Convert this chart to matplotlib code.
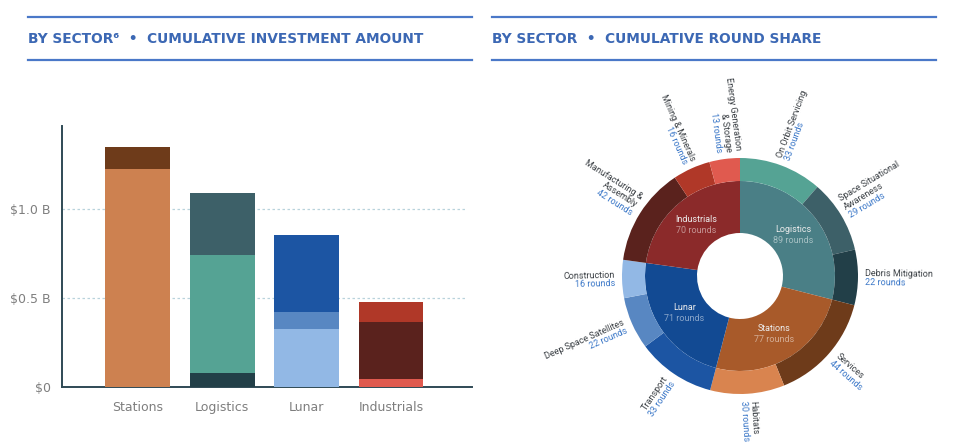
import numpy as np
import matplotlib
matplotlib.use("Agg")
from matplotlib import pyplot as plt
from matplotlib.patches import Wedge
from matplotlib.lines import Line2D

# ---- bar chart data (billions USD) ----
sectors = ["Stations", "Logistics", "Lunar", "Industrials"]
# stacked segments bottom -> top
stations_parts = [1.22, 0.126]
logistics_parts = [0.079, 0.659, 0.350]
lunar_parts = [0.323, 0.099, 0.432]
industrials_parts = [0.043, 0.321, 0.113]
stations_colors = ["#CD8150", "#6E3B1A"]
logistics_colors = ["#223F48", "#55A394", "#3D6068"]
lunar_colors = ["#92B8E5", "#5887C2", "#1C55A3"]
industrials_colors = ["#E05A4F", "#5A221D", "#B03828"]
y_ticks = [0, 0.5, 1.0]
y_tick_labels = ["$0", "$0.5 B", "$1.0 B"]

# ---- sunburst data (rounds) ----
inner_names = ["Logistics", "Stations", "Lunar", "Industrials"]
inner_rounds = [89, 77, 71, 70]
inner_colors = ["#4A7F86", "#A85A2A", "#124A93", "#8B2A2A"]
outer_names = [
    ["On Orbit Servicing", "Space Situational\nAwareness", "Debris Mitigation"],
    ["Services", "Habitats"],
    ["Transport", "Deep Space Satellites", "Construction"],
    ["Manufacturing &\nAssembly", "Mining & Minerals", "Energy Generation\n& Storage"],
]
outer_rounds = [[33, 29, 22], [44, 30], [33, 22, 16], [42, 16, 13]]
outer_colors = [
    ["#55A394", "#3D6068", "#223F48"],
    ["#6E3B1A", "#D9844F"],
    ["#1C55A3", "#5887C2", "#92B8E5"],
    ["#5A221D", "#B03828", "#E05A4F"],
]

W, H = 960, 447
fig = plt.figure(figsize=(W / 100, H / 100), dpi=100)
fig.patch.set_facecolor("white")

title_color = "#3C68B4"
rule_color = "#4A78C8"


def header(x0, x1, text):
    for yp in (17, 60):
        fig.add_artist(Line2D([x0 / W, x1 / W], [1 - yp / H, 1 - yp / H],
                              color=rule_color, lw=1.6, transform=fig.transFigure))
    fig.text(x0 / W, 1 - 39 / H, text, color=title_color, fontsize=9.9,
             fontweight="bold", family="DejaVu Sans", va="center", ha="left")


header(28, 472, "BY SECTOR\u2076  \u2022  CUMULATIVE INVESTMENT AMOUNT")
header(492, 936, "BY SECTOR  \u2022  CUMULATIVE ROUND SHARE")

# ---- stacked bars ----
ax = fig.add_axes([62 / W, 1 - 387 / H, 410 / W, 261 / H])
all_parts = [stations_parts, logistics_parts, lunar_parts, industrials_parts]
all_colors = [stations_colors, logistics_colors, lunar_colors, industrials_colors]
x = np.arange(len(sectors))
for i, (parts, cols) in enumerate(zip(all_parts, all_colors)):
    bottom = 0
    for v, c in zip(parts, cols):
        ax.bar(x[i], v, bottom=bottom, width=0.77, color=c, zorder=3)
        bottom += v

ax.set_xlim(-0.9, 3.96)
ax.set_ylim(0, 1.464)
for yv in y_ticks[1:]:
    ax.plot([-0.9, 3.9], [yv, yv], color="#B9D3DC", lw=0.9, ls=(0, (2, 2)), zorder=1)
ax.set_yticks(y_ticks)
ax.set_yticklabels(y_tick_labels)
ax.set_xticks(x)
ax.set_xticklabels(sectors)
ax.tick_params(axis="both", length=0, colors="#7E7E7E", labelsize=9)
ax.tick_params(axis="y", pad=8)
ax.tick_params(axis="x", pad=10)
for s in ("top", "right"):
    ax.spines[s].set_visible(False)
for s in ("left", "bottom"):
    ax.spines[s].set_color("#2F4A55")
    ax.spines[s].set_linewidth(1.4)

# ---- sunburst ----
cx, cy, size = 740, 276, 400
ax2 = fig.add_axes([(cx - size / 2) / W, (H - cy - size / 2) / H, size / W, size / H])
ax2.set_xlim(-2, 2)
ax2.set_ylim(-2, 2)
ax2.set_aspect("equal")
ax2.axis("off")

r_hole, r_mid, r_out = 0.43, 0.95, 1.18
total = sum(inner_rounds)
start = 90.0
for k in range(len(inner_names)):
    span = 360.0 * inner_rounds[k] / total
    end = start - span
    ax2.add_patch(Wedge((0, 0), r_mid, end, start, width=r_mid - r_hole,
                        facecolor=inner_colors[k], edgecolor="none"))
    mid = np.deg2rad((start + end) / 2)
    rl = 0.67
    tx, ty = rl * np.cos(mid), rl * np.sin(mid)
    ax2.text(tx, ty + 0.01, inner_names[k], color="#EDEDED", fontsize=6.5,
             ha="center", va="bottom", family="Roboto")
    ax2.text(tx, ty - 0.01, f"{inner_rounds[k]} rounds", color="#FFFFFF", alpha=0.5,
             fontsize=6.5, ha="center", va="top", family="Roboto")

    sub_total = sum(outer_rounds[k])
    s0 = start
    for name, val, col in zip(outer_names[k], outer_rounds[k], outer_colors[k]):
        sspan = span * val / sub_total
        s1 = s0 - sspan
        ax2.add_patch(Wedge((0, 0), r_out, s1, s0, width=r_out - r_mid,
                            facecolor=col, edgecolor="none"))
        ang = (s0 + s1) / 2
        a = ang % 360
        rad = np.deg2rad(ang)
        lx, ly = 1.25 * np.cos(rad), 1.25 * np.sin(rad)
        if 90 < a < 270:
            rot, ha = a - 180, "right"
        else:
            rot, ha = (a if a <= 90 else a - 360), "left"
        ax2.text(lx, ly, name, rotation=rot, rotation_mode="anchor", ha=ha, va="bottom",
                 multialignment=ha, color="#3A3F44", fontsize=6.5, family="Roboto",
                 linespacing=1.15)
        ax2.text(lx, ly, f"{val} rounds", rotation=rot, rotation_mode="anchor", ha=ha,
                 va="top", color="#3C78C8", fontsize=6.5, family="Roboto")
        s0 = s1
    start = end

fig.savefig("out.png", dpi=100, facecolor="white")
